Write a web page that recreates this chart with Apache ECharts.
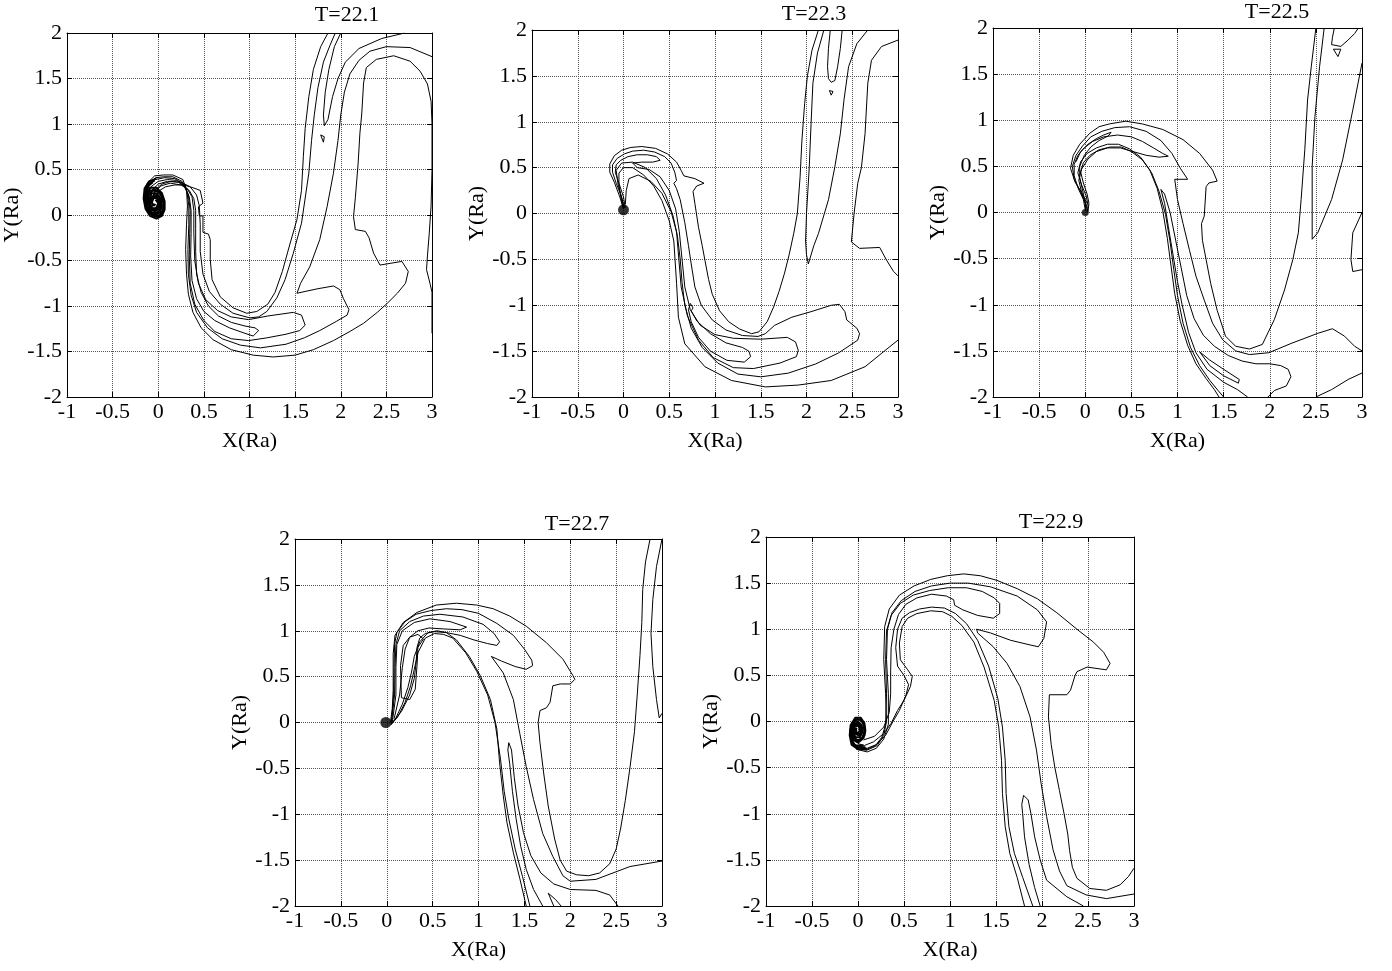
<!DOCTYPE html>
<html>
<head>
<meta charset="utf-8">
<title>T=22.1 ... T=22.9</title>
<script src="https://cdn.jsdelivr.net/npm/echarts@6/dist/echarts.min.js"></script>
<style>
    html, body {margin: 0; padding: 0; background: #fff;}
    #chart {width: 1392px; height: 971px;}
</style>
</head>
<body>
<div id="chart"></div>
<script>
    // contour lines, [x, y] in Ra

    // ---- T=22.1 ----
    var p1_spiral = [[-0.02,0.40],[-0.10,0.37],[-0.15,0.29],[-0.16,0.18],[-0.14,0.07],[-0.09,-0.01],[-0.02,-0.04],[0.04,-0.01],[0.07,0.06],[0.07,0.15],[0.04,0.24],[-0.02,0.3],[-0.09,0.3],[-0.13,0.22],[-0.13,0.11],[-0.09,0.03],[-0.03,0.0],[0.02,0.03],[0.04,0.1],[0.03,0.18],[-0.02,0.24],[-0.07,0.24],[-0.1,0.17],[-0.09,0.09],[-0.05,0.05],[-0.01,0.07],[0.01,0.12],[-0.01,0.18],[-0.05,0.19],[-0.07,0.14],[-0.05,0.1],[-0.03,0.12]];
    var p1_spiral_b = [[-0.04,0.38],[-0.11,0.34],[-0.145,0.26],[-0.15,0.16],[-0.12,0.06],[-0.07,0.0],[-0.01,-0.02],[0.04,0.01],[0.06,0.08],[0.055,0.17],[0.02,0.25],[-0.04,0.28],[-0.1,0.26],[-0.125,0.18],[-0.115,0.09],[-0.07,0.03],[-0.02,0.02],[0.02,0.06],[0.03,0.13],[0.01,0.2],[-0.04,0.22],[-0.08,0.19],[-0.09,0.12],[-0.06,0.07],[-0.02,0.08],[0.0,0.13],[-0.03,0.17]];
    var p1_spiral_c = [[-0.06,0.36],[-0.12,0.31],[-0.14,0.22],[-0.135,0.12],[-0.1,0.04],[-0.04,-0.01],[0.02,0.0],[0.05,0.05],[0.06,0.12],[0.04,0.2],[0.0,0.26],[-0.06,0.27],[-0.11,0.21],[-0.11,0.13],[-0.08,0.06],[-0.03,0.04],[0.01,0.08],[0.02,0.15],[-0.02,0.2],[-0.06,0.2],[-0.08,0.14],[-0.05,0.1]];
    var p1_outer = [[-0.14,0.24],[-0.12,0.35],[-0.04,0.43],[0.06,0.44],[0.16,0.44],[0.27,0.39],[0.31,0.27],[0.32,0.1],[0.31,-0.1],[0.30,-0.38],[0.31,-0.65],[0.33,-0.87],[0.38,-1.07],[0.47,-1.24],[0.6,-1.37],[0.8,-1.48],[1.04,-1.54],[1.26,-1.56],[1.5,-1.54],[1.7,-1.48],[1.92,-1.38],[2.1,-1.28],[2.25,-1.19],[2.4,-1.07],[2.51,-0.97],[2.62,-0.86],[2.71,-0.75],[2.74,-0.62],[2.67,-0.51],[2.55,-0.53],[2.43,-0.55],[2.36,-0.42],[2.31,-0.25],[2.27,-0.18],[2.16,-0.16],[2.14,-0.02],[2.16,0.19],[2.19,0.56],[2.21,0.9],[2.23,1.11],[2.25,1.45],[2.28,1.62],[2.39,1.71],[2.58,1.75],[2.76,1.69],[2.87,1.58],[2.95,1.44],[2.99,1.25],[3.0,1.0]];
    var p1_edge = [[3.0,1.0],[3.0,0.5],[2.99,0.1],[2.97,-0.2],[2.95,-0.45],[2.94,-0.6],[2.98,-0.76],[3.0,-0.85],[3.0,-1.3]];
    var p1_lobe3 = [[-0.12,0.26],[-0.1,0.34],[-0.03,0.41],[0.06,0.42],[0.16,0.42],[0.26,0.37],[0.315,0.25],[0.335,0.1],[0.335,-0.1],[0.325,-0.38],[0.33,-0.65],[0.36,-0.88],[0.42,-1.07],[0.54,-1.24],[0.7,-1.36],[0.9,-1.43],[1.12,-1.46],[1.4,-1.42],[1.6,-1.35],[1.77,-1.27],[1.95,-1.17],[2.07,-1.1],[2.09,-1.04],[2.03,-0.92],[1.99,-0.82],[1.92,-0.78],[1.75,-0.81],[1.61,-0.84],[1.52,-0.86],[1.56,-0.75],[1.66,-0.57],[1.77,-0.27],[1.85,0.09],[1.92,0.46],[1.97,0.82],[2.0,1.1],[2.04,1.35],[2.1,1.55],[2.2,1.7],[2.32,1.8],[2.5,1.85],[2.76,1.84],[3.0,1.74]];
    var p1_lobe2 = [[-0.13,0.24],[-0.1,0.32],[-0.03,0.39],[0.07,0.41],[0.18,0.4],[0.28,0.34],[0.33,0.22],[0.35,0.05],[0.345,-0.2],[0.34,-0.45],[0.35,-0.75],[0.4,-0.98],[0.5,-1.16],[0.62,-1.28],[0.8,-1.36],[0.99,-1.38],[1.19,-1.35],[1.4,-1.31],[1.55,-1.27],[1.61,-1.21],[1.57,-1.1],[1.48,-1.07],[1.2,-1.11],[0.99,-1.15],[0.8,-1.12],[0.65,-1.05],[0.52,-0.93],[0.44,-0.75],[0.40,-0.5],[0.39,-0.2],[0.39,0.05],[0.37,0.2],[0.31,0.3],[0.22,0.36],[0.1,0.37],[0.0,0.34],[-0.07,0.27],[-0.1,0.18]];
    var p1_lobe1 = [[-0.11,0.22],[-0.08,0.31],[0.0,0.37],[0.1,0.39],[0.2,0.38],[0.29,0.32],[0.34,0.2],[0.36,0.05],[0.36,-0.2],[0.355,-0.45],[0.37,-0.72],[0.42,-0.92],[0.5,-1.06],[0.62,-1.16],[0.78,-1.24],[0.95,-1.3],[1.04,-1.33],[1.10,-1.27],[1.06,-1.24],[0.95,-1.22],[0.8,-1.18],[0.66,-1.11],[0.55,-1.0],[0.47,-0.85],[0.42,-0.65],[0.41,-0.4],[0.41,-0.15],[0.41,0.05],[0.39,0.18],[0.34,0.27],[0.25,0.33],[0.13,0.35],[0.03,0.32],[-0.04,0.25],[-0.07,0.17]];
    var p1_inner_b = [[-0.06,0.2],[-0.03,0.28],[0.04,0.34],[0.14,0.37],[0.25,0.36],[0.35,0.31],[0.42,0.22],[0.45,0.1],[0.46,-0.1],[0.46,-0.4],[0.49,-0.65],[0.56,-0.84],[0.68,-0.98],[0.82,-1.08],[1.0,-1.13],[1.1,-1.12],[1.19,-1.06],[1.30,-0.91],[1.39,-0.71],[1.48,-0.42],[1.57,-0.09],[1.65,0.46],[1.68,0.82],[1.71,1.1],[1.75,1.4],[1.81,1.68],[1.88,1.86],[1.94,2.0]];
    var p1_inner_a = [[-0.04,0.18],[0.0,0.26],[0.08,0.31],[0.18,0.33],[0.28,0.33],[0.38,0.3],[0.46,0.27],[0.49,0.13],[0.44,0.09],[0.45,-0.01],[0.49,-0.01],[0.49,-0.19],[0.55,-0.21],[0.57,-0.27],[0.57,-0.49],[0.59,-0.71],[0.68,-0.9],[0.82,-1.02],[0.97,-1.08],[1.08,-1.06],[1.2,-0.98],[1.28,-0.85],[1.36,-0.62],[1.44,-0.33],[1.52,-0.05],[1.57,0.27],[1.59,0.64],[1.61,0.95],[1.65,1.3],[1.70,1.6],[1.78,1.85],[1.86,2.0]];
    var p1_hook = [[2.0,2.0],[1.93,1.85],[1.87,1.6],[1.83,1.35],[1.81,1.1],[1.82,0.98],[1.86,1.05],[1.91,1.3],[1.97,1.5],[2.05,1.68],[2.2,1.83],[2.45,1.94],[2.70,2.0]];
    var p1_tri = [[1.78,0.88],[1.82,0.86],[1.81,0.80],[1.78,0.88]];

    // ---- T=22.3 ----
    var p2_dot = [[0.0, 0.04]];
    var p2_u = [[0.0,0.05],[-0.04,0.18],[-0.1,0.34],[-0.15,0.45],[-0.15,0.54],[-0.1,0.63],[-0.02,0.69],[0.08,0.72],[0.2,0.73],[0.35,0.71],[0.48,0.65],[0.58,0.56],[0.63,0.47],[0.66,0.41],[0.78,0.38],[0.88,0.33],[0.8,0.3],[0.76,0.24],[0.78,0.11],[0.82,-0.15],[0.86,-0.35],[0.89,-0.51],[0.93,-0.72],[0.97,-0.88],[1.05,-1.06],[1.15,-1.18],[1.27,-1.26],[1.4,-1.31],[1.48,-1.29],[1.57,-1.18],[1.64,-1.02],[1.7,-0.85],[1.76,-0.65],[1.81,-0.45],[1.86,-0.22],[1.9,0.0],[1.93,0.4],[1.95,0.8],[1.98,1.2],[2.01,1.5],[2.06,1.78],[2.13,2.0]];
    var p2_lobeA = [[0.01,0.06],[-0.02,0.18],[-0.08,0.33],[-0.12,0.45],[-0.12,0.53],[-0.07,0.6],[0.01,0.65],[0.1,0.68],[0.22,0.69],[0.34,0.67],[0.45,0.62],[0.52,0.55],[0.56,0.45],[0.58,0.36],[0.55,0.33],[0.58,0.27],[0.62,0.15],[0.67,-0.1],[0.71,-0.35],[0.74,-0.55],[0.78,-0.8],[0.85,-1.0],[0.97,-1.16],[1.12,-1.27],[1.3,-1.33],[1.47,-1.34],[1.55,-1.31],[1.65,-1.22],[1.84,-1.13],[2.05,-1.07],[2.27,-1.0],[2.36,-0.99],[2.42,-1.07],[2.44,-1.16],[2.55,-1.25],[2.58,-1.31],[2.56,-1.38],[2.35,-1.52],[2.1,-1.64],[1.8,-1.74],[1.5,-1.78],[1.25,-1.75],[1.03,-1.63],[0.86,-1.46],[0.74,-1.25],[0.67,-1.0],[0.64,-0.75],[0.62,-0.5],[0.59,-0.25],[0.54,-0.02],[0.46,0.2],[0.36,0.38],[0.24,0.5],[0.1,0.56],[-0.02,0.55],[-0.08,0.47],[-0.06,0.32],[-0.02,0.17],[0.0,0.07]];
    var p2_lobeB = [[0.02,0.06],[0.0,0.18],[-0.05,0.33],[-0.09,0.45],[-0.08,0.53],[-0.03,0.58],[0.05,0.62],[0.15,0.64],[0.26,0.64],[0.36,0.62],[0.4,0.58],[0.32,0.56],[0.2,0.56],[0.1,0.55],[0.15,0.5],[0.28,0.48],[0.4,0.4],[0.5,0.25],[0.57,0.05],[0.61,-0.2],[0.64,-0.5],[0.67,-0.8],[0.73,-1.05],[0.84,-1.22],[1.0,-1.32],[1.2,-1.36],[1.5,-1.37],[1.79,-1.35],[1.88,-1.40],[1.91,-1.49],[1.89,-1.56],[1.71,-1.63],[1.42,-1.69],[1.2,-1.68],[0.98,-1.57],[0.82,-1.38],[0.7,-1.12],[0.63,-0.8],[0.605,-0.5],[0.58,-0.2],[0.52,0.02],[0.42,0.22],[0.3,0.35],[0.16,0.42],[0.06,0.38],[0.03,0.25],[0.02,0.1]];
    var p2_lobeC = [[0.73,-0.98],[0.76,-1.03],[0.74,-1.06],[0.8,-1.17],[0.95,-1.31],[1.12,-1.41],[1.3,-1.46],[1.37,-1.5],[1.39,-1.56],[1.32,-1.62],[1.13,-1.6],[0.95,-1.5],[0.82,-1.35],[0.74,-1.18],[0.71,-1.05],[0.73,-0.98]];
    var p2_outer = [[0.0,0.05],[-0.03,0.18],[-0.05,0.32],[-0.05,0.44],[0.0,0.5],[0.1,0.5],[0.22,0.42],[0.33,0.3],[0.42,0.14],[0.5,-0.08],[0.55,-0.3],[0.58,-0.76],[0.6,-1.13],[0.67,-1.42],[0.89,-1.67],[1.18,-1.82],[1.55,-1.89],[1.91,-1.87],[2.27,-1.82],[2.64,-1.67],[2.85,-1.5],[3.0,-1.38]];
    var p2_v = [[2.19,2.0],[2.12,1.75],[2.07,1.42],[2.05,0.98],[2.03,0.5],[2.0,0.0],[1.99,-0.3],[2.0,-0.45],[2.02,-0.55],[2.08,-0.35],[2.13,-0.22],[2.24,0.15],[2.31,0.51],[2.37,0.87],[2.41,1.24],[2.46,1.6],[2.55,1.85],[2.67,2.0]];
    var p2_hook = [[2.26,2.0],[2.24,1.8],[2.23,1.6],[2.24,1.47],[2.27,1.43],[2.31,1.45],[2.34,1.6],[2.37,1.8],[2.39,2.0]];
    var p2_tri = [[2.25,1.34],[2.29,1.33],[2.27,1.29],[2.25,1.34]];
    var p2_arc = [[3.0,1.89],[2.82,1.82],[2.71,1.67],[2.67,1.42],[2.64,0.87],[2.6,0.5],[2.56,0.33],[2.52,0.0],[2.49,-0.31],[2.58,-0.38],[2.8,-0.37],[2.87,-0.5],[2.95,-0.63],[3.0,-0.68]];

    // ---- T=22.5 ----
    var p3_dot = [[0.0, 0.0]];
    var p3_u = [[0.0,0.02],[0.02,0.1],[-0.04,0.22],[-0.11,0.33],[-0.16,0.48],[-0.13,0.62],[-0.06,0.74],[0.05,0.86],[0.15,0.93],[0.26,0.96],[0.44,0.99],[0.62,0.96],[0.84,0.90],[1.06,0.79],[1.24,0.64],[1.38,0.46],[1.43,0.34],[1.34,0.32],[1.31,0.28],[1.29,-0.04],[1.26,-0.12],[1.27,-0.30],[1.31,-0.51],[1.36,-0.77],[1.43,-1.06],[1.52,-1.34],[1.63,-1.45],[1.78,-1.48],[1.92,-1.43],[2.05,-1.16],[2.16,-0.84],[2.25,-0.51],[2.31,-0.22],[2.34,0.14],[2.38,0.68],[2.41,1.22],[2.45,1.58],[2.50,2.0]];
    var p3_l2 = [[0.01,0.02],[0.0,0.12],[-0.06,0.24],[-0.12,0.36],[-0.14,0.5],[-0.1,0.62],[-0.03,0.72],[0.06,0.82],[0.18,0.88],[0.32,0.92],[0.48,0.93],[0.66,0.88],[0.82,0.78],[0.94,0.64],[1.03,0.48],[1.11,0.36],[0.97,0.36],[1.0,0.14],[1.06,-0.12],[1.13,-0.41],[1.2,-0.69],[1.29,-0.95],[1.38,-1.2],[1.49,-1.38],[1.63,-1.5],[1.78,-1.54],[1.99,-1.52],[2.23,-1.42],[2.52,-1.31],[2.68,-1.26],[2.81,-1.34],[2.92,-1.45],[3.0,-1.5]];
    var p3_l3 = [[0.0,0.03],[-0.02,0.14],[-0.08,0.27],[-0.12,0.4],[-0.12,0.52],[-0.08,0.62],[-0.01,0.7],[0.08,0.77],[0.2,0.82],[0.35,0.84],[0.5,0.82],[0.62,0.77],[0.74,0.7],[0.84,0.64],[0.9,0.61],[0.8,0.6],[0.66,0.62],[0.52,0.66],[0.38,0.7],[0.24,0.7],[0.12,0.66],[0.03,0.58],[-0.04,0.47],[-0.07,0.35],[-0.04,0.22],[0.0,0.1],[0.01,0.04]];
    var p3_l4 = [[-0.1,0.55],[-0.05,0.66],[0.03,0.74],[0.12,0.8],[0.2,0.84],[0.28,0.87],[0.25,0.83],[0.15,0.78],[0.06,0.71],[-0.01,0.62],[-0.06,0.5],[-0.06,0.38],[-0.02,0.2],[0.01,0.05]];
    var p3_d1 = [[0.02,0.0],[0.03,0.08],[0.01,0.18],[-0.04,0.3],[-0.08,0.43],[-0.05,0.55],[0.02,0.64],[0.12,0.7],[0.24,0.74],[0.36,0.74],[0.48,0.69],[0.6,0.6],[0.7,0.46],[0.78,0.26],[0.84,0.02],[0.89,-0.28],[0.93,-0.58],[0.97,-0.88],[1.03,-1.18],[1.11,-1.44],[1.2,-1.64],[1.31,-1.8],[1.4,-1.92],[1.45,-2.0]];
    var p3_d2 = [[0.03,0.01],[0.04,0.1],[0.02,0.2],[-0.02,0.32],[-0.05,0.44],[-0.02,0.54],[0.05,0.62],[0.15,0.68],[0.27,0.71],[0.39,0.71],[0.5,0.66],[0.62,0.57],[0.72,0.43],[0.8,0.23],[0.87,-0.02],[0.92,-0.32],[0.96,-0.62],[1.0,-0.9],[1.06,-1.2],[1.14,-1.46],[1.24,-1.66],[1.35,-1.82],[1.44,-1.93],[1.5,-2.0]];
    var p3_d3 = [[1.76,-2.0],[1.65,-1.92],[1.5,-1.84],[1.32,-1.7],[1.2,-1.52],[1.12,-1.3],[1.05,-1.0],[1.0,-0.75],[0.95,-0.45],[0.9,-0.15],[0.86,0.1],[0.82,0.25],[0.86,0.2],[0.92,0.0],[0.98,-0.3],[1.04,-0.6],[1.1,-0.9],[1.18,-1.15],[1.28,-1.33],[1.4,-1.45],[1.55,-1.55],[1.7,-1.61],[1.85,-1.64],[2.0,-1.64],[2.12,-1.66],[2.2,-1.7],[2.23,-1.78],[2.18,-1.88],[2.05,-1.93],[1.98,-2.0]];
    var p3_narrow = [[1.24,-1.51],[1.35,-1.6],[1.5,-1.7],[1.67,-1.81],[1.66,-1.85],[1.5,-1.77],[1.35,-1.66],[1.24,-1.51]];
    var p3_v = [[2.59,2.0],[2.54,1.58],[2.49,1.04],[2.46,0.5],[2.46,0.0],[2.46,-0.29],[2.52,-0.22],[2.67,0.14],[2.79,0.57],[2.9,1.11],[3.0,1.62]];
    var p3_top = [[2.7,2.0],[2.68,1.9],[2.67,1.82],[2.77,1.8],[2.85,1.87],[2.92,1.94],[2.96,2.0]];
    var p3_tri = [[2.69,1.77],[2.74,1.69],[2.77,1.77],[2.69,1.77]];
    var p3_edge = [[3.0,0.0],[2.9,-0.22],[2.88,-0.51],[2.9,-0.64],[3.0,-0.62]];
    var p3_corner = [[2.5,-2.0],[2.67,-1.92],[2.85,-1.81],[3.0,-1.74]];

    // ---- T=22.7 ----
    var p4_dot = [[-0.01, 0.0]];
    var p4_u = [[0.04,0.0],[0.06,0.15],[0.07,0.35],[0.07,0.55],[0.07,0.75],[0.09,0.95],[0.18,1.09],[0.33,1.2],[0.54,1.28],[0.76,1.3],[0.98,1.28],[1.16,1.24],[1.34,1.16],[1.52,1.05],[1.74,0.87],[1.92,0.69],[2.03,0.51],[2.05,0.47],[2.0,0.42],[1.89,0.42],[1.81,0.40],[1.78,0.22],[1.74,0.16],[1.67,0.13],[1.65,0.0],[1.67,-0.22],[1.71,-0.55],[1.76,-0.91],[1.83,-1.27],[1.89,-1.5],[1.96,-1.62],[2.07,-1.66],[2.2,-1.67],[2.32,-1.64],[2.43,-1.54],[2.5,-1.38],[2.55,-1.15],[2.6,-0.85],[2.65,-0.5],[2.7,-0.1],[2.73,0.3],[2.76,0.73],[2.78,1.09],[2.79,1.45],[2.82,1.75],[2.87,2.0]];
    var p4_edge = [[3.0,2.0],[2.94,1.7],[2.9,1.34],[2.88,0.97],[2.9,0.61],[2.94,0.25],[2.97,0.05],[3.0,0.1]];
    var p4_lobeC = [[0.05,-0.01],[0.075,0.3],[0.08,0.6],[0.085,0.85],[0.11,0.98],[0.2,1.1],[0.32,1.18],[0.48,1.22],[0.65,1.24],[0.82,1.23],[1.0,1.19],[1.2,1.08],[1.38,0.95],[1.5,0.8],[1.58,0.68],[1.59,0.62],[1.52,0.58],[1.4,0.61],[1.25,0.67],[1.14,0.72],[1.27,0.54],[1.38,0.25],[1.45,-0.12],[1.52,-0.48],[1.6,-0.84],[1.7,-1.21],[1.81,-1.46],[1.92,-1.67],[2.0,-1.73],[2.28,-1.71],[2.65,-1.57],[3.0,-1.51]];
    var p4_lobeB = [[0.05,-0.02],[0.085,0.3],[0.09,0.6],[0.1,0.85],[0.14,1.0],[0.25,1.1],[0.4,1.16],[0.58,1.18],[0.83,1.15],[1.05,1.07],[1.17,0.97],[1.23,0.88],[1.2,0.84],[1.1,0.86],[0.95,0.9],[0.8,0.95],[0.65,0.98],[0.52,0.99],[0.42,0.97],[0.36,0.92],[0.33,0.82],[0.32,0.65],[0.3,0.48],[0.25,0.3],[0.16,0.12],[0.07,0.01]];
    var p4_lobeA = [[0.06,0.0],[0.1,0.3],[0.1,0.6],[0.11,0.85],[0.17,1.0],[0.3,1.09],[0.47,1.13],[0.69,1.1],[0.87,1.04],[0.8,1.01],[0.62,1.02],[0.46,1.03],[0.34,1.0],[0.25,0.93],[0.2,0.8],[0.17,0.6],[0.14,0.3],[0.08,0.04]];
    var p4_loop = [[0.16,0.27],[0.15,0.62],[0.18,0.84],[0.25,0.93],[0.34,0.96],[0.4,0.91],[0.34,0.82],[0.33,0.62],[0.31,0.36],[0.25,0.25],[0.16,0.27]];
    var p4_d1 = [[0.05,-0.02],[0.1,0.05],[0.17,0.2],[0.23,0.38],[0.27,0.55],[0.3,0.72],[0.36,0.88],[0.45,0.98],[0.55,1.0],[0.65,0.98],[0.76,0.9],[0.9,0.72],[1.02,0.51],[1.13,0.25],[1.2,-0.07],[1.23,-0.44],[1.27,-0.8],[1.31,-1.09],[1.38,-1.42],[1.45,-1.7],[1.52,-2.0]];
    var p4_d2 = [[0.04,-0.03],[0.12,0.06],[0.2,0.22],[0.26,0.4],[0.3,0.58],[0.34,0.76],[0.42,0.92],[0.52,0.97],[0.62,0.96],[0.72,0.92],[0.86,0.76],[0.98,0.56],[1.1,0.3],[1.18,0.0],[1.24,-0.4],[1.28,-0.75],[1.33,-1.05],[1.40,-1.38],[1.48,-1.68],[1.56,-2.0]];
    var p4_spike = [[1.70,-2.0],[1.6,-1.82],[1.52,-1.6],[1.46,-1.35],[1.41,-1.05],[1.37,-0.75],[1.34,-0.45],[1.32,-0.3],[1.33,-0.22],[1.36,-0.3],[1.39,-0.6],[1.43,-0.9],[1.49,-1.2],[1.57,-1.45],[1.68,-1.64],[1.82,-1.76],[2.0,-1.82],[2.28,-1.83],[2.43,-1.88],[2.52,-2.0]];
    var p4_narrow = [[1.82,-2.0],[1.76,-1.86],[1.84,-1.93],[1.9,-2.0]];

    // ---- T=22.9 ----
    var p5_spiral = [[0.1,-0.3],[0.0,-0.3],[-0.07,-0.25],[-0.09,-0.15],[-0.08,-0.04],[-0.03,0.04],[0.03,0.04],[0.07,-0.02],[0.08,-0.1],[0.06,-0.18],[0.0,-0.23],[-0.05,-0.2],[-0.07,-0.12],[-0.05,-0.04],[0.0,0.0],[0.04,-0.04],[0.05,-0.11],[0.02,-0.17],[-0.03,-0.17],[-0.05,-0.1],[-0.03,-0.05],[0.01,-0.05],[0.02,-0.1],[-0.01,-0.13]];
    var p5_spiral_b = [[0.08,-0.28],[-0.01,-0.28],[-0.06,-0.23],[-0.08,-0.14],[-0.07,-0.05],[-0.02,0.02],[0.03,0.02],[0.06,-0.03],[0.07,-0.11],[0.05,-0.17],[0.0,-0.21],[-0.04,-0.18],[-0.06,-0.11],[-0.04,-0.05],[0.0,-0.02],[0.03,-0.06],[0.04,-0.12],[0.01,-0.15],[-0.02,-0.14],[-0.04,-0.09],[-0.01,-0.07]];
    var p5_spiral_c = [[0.06,-0.26],[-0.03,-0.26],[-0.07,-0.2],[-0.085,-0.1],[-0.06,-0.01],[0.0,0.03],[0.05,0.0],[0.075,-0.07],[0.07,-0.15],[0.03,-0.2],[-0.02,-0.2],[-0.05,-0.15],[-0.055,-0.07],[-0.02,-0.02],[0.02,-0.03],[0.035,-0.09],[0.02,-0.14],[-0.02,-0.12],[-0.02,-0.08]];
    var p5_outer = [[0.0,-0.3],[0.1,-0.31],[0.21,-0.26],[0.28,-0.15],[0.31,0.0],[0.3,0.3],[0.28,0.67],[0.29,1.03],[0.34,1.22],[0.45,1.37],[0.61,1.47],[0.79,1.54],[0.97,1.58],[1.15,1.6],[1.33,1.58],[1.51,1.53],[1.73,1.44],[1.95,1.33],[2.16,1.18],[2.38,1.0],[2.56,0.86],[2.67,0.75],[2.74,0.63],[2.70,0.56],[2.49,0.59],[2.38,0.54],[2.36,0.5],[2.31,0.34],[2.27,0.29],[2.08,0.29],[2.07,0.05],[2.1,-0.25],[2.14,-0.5],[2.19,-0.75],[2.24,-1.0],[2.28,-1.22],[2.3,-1.4],[2.33,-1.58],[2.38,-1.7],[2.52,-1.81],[2.7,-1.83],[2.85,-1.77],[2.94,-1.68],[3.0,-1.59]];
    var p5_lobe2 = [[-0.02,-0.3],[0.1,-0.33],[0.2,-0.29],[0.28,-0.19],[0.33,-0.03],[0.33,0.3],[0.31,0.67],[0.32,1.0],[0.37,1.18],[0.47,1.31],[0.62,1.41],[0.8,1.47],[1.0,1.5],[1.2,1.5],[1.44,1.46],[1.73,1.36],[1.95,1.21],[2.05,1.08],[2.02,0.9],[1.96,0.81],[1.87,0.83],[1.66,0.88],[1.44,0.96],[1.29,1.0],[1.3,0.96],[1.47,0.81],[1.62,0.63],[1.76,0.38],[1.87,0.05],[1.94,-0.31],[1.99,-0.67],[2.05,-1.03],[2.12,-1.39],[2.19,-1.62],[2.27,-1.78],[2.48,-1.88],[2.7,-1.92],[3.0,-1.87]];
    var p5_lobe3 = [[-0.03,-0.28],[0.1,-0.3],[0.19,-0.26],[0.26,-0.17],[0.3,-0.03],[0.31,0.3],[0.3,0.67],[0.31,0.98],[0.36,1.15],[0.46,1.28],[0.6,1.37],[0.78,1.42],[0.98,1.45],[1.18,1.45],[1.35,1.41],[1.48,1.34],[1.54,1.28],[1.54,1.17],[1.47,1.12],[1.3,1.15],[1.14,1.21],[1.05,1.26],[1.04,1.32],[0.96,1.36],[0.8,1.38],[0.64,1.34],[0.52,1.27],[0.44,1.16],[0.39,1.0],[0.36,0.8],[0.355,0.55],[0.355,0.3],[0.34,0.1],[0.28,-0.06],[0.18,-0.16],[0.06,-0.2]];
    var p5_pair1 = [[0.0,-0.24],[0.07,-0.26],[0.17,-0.22],[0.28,-0.13],[0.36,-0.02],[0.43,0.12],[0.5,0.23],[0.57,0.38],[0.59,0.49],[0.54,0.56],[0.46,0.67],[0.45,0.85],[0.48,1.03],[0.54,1.12],[0.64,1.17],[0.79,1.2],[0.92,1.19],[1.02,1.14],[1.13,1.04],[1.26,0.86],[1.37,0.59],[1.48,0.23],[1.53,-0.06],[1.56,-0.42],[1.57,-0.78],[1.6,-1.14],[1.65,-1.43],[1.73,-1.69],[1.81,-2.0]];
    var p5_pair2 = [[0.01,-0.27],[0.1,-0.29],[0.2,-0.25],[0.3,-0.15],[0.38,0.0],[0.45,0.12],[0.52,0.28],[0.55,0.4],[0.5,0.5],[0.43,0.6],[0.41,0.8],[0.43,1.0],[0.48,1.12],[0.56,1.18],[0.67,1.22],[0.8,1.24],[0.94,1.23],[1.06,1.17],[1.18,1.06],[1.3,0.88],[1.42,0.6],[1.52,0.25],[1.57,-0.06],[1.6,-0.42],[1.61,-0.78],[1.64,-1.14],[1.7,-1.43],[1.79,-1.69],[1.9,-2.0]];
    var p5_spike = [[1.98,-2.0],[1.92,-1.8],[1.86,-1.55],[1.81,-1.25],[1.79,-1.0],[1.78,-0.9],[1.8,-0.8],[1.85,-0.85],[1.88,-1.0],[1.92,-1.25],[1.98,-1.5],[2.05,-1.72],[2.27,-1.9],[2.45,-2.0]];

    var titles = ['T=22.1', 'T=22.3', 'T=22.5', 'T=22.7', 'T=22.9'];
    var xTicks = [-1, -0.5, 0, 0.5, 1, 1.5, 2, 2.5, 3];
    var yTicks = [-2, -1.5, -1, -0.5, 0, 0.5, 1, 1.5, 2];

    // spirals are drawn a bit heavier than the other contours
    var panels = [
        {lines: [p1_outer, p1_edge, p1_lobe3, p1_lobe2, p1_lobe1, p1_inner_b, p1_inner_a, p1_hook, p1_tri], heavy: [p1_spiral, p1_spiral_b, p1_spiral_c], dots: null},
        {lines: [p2_u, p2_lobeA, p2_lobeB, p2_lobeC, p2_outer, p2_v, p2_hook, p2_tri, p2_arc], heavy: [], dots: p2_dot},
        {lines: [p3_u, p3_l2, p3_l3, p3_l4, p3_d1, p3_d2, p3_d3, p3_narrow, p3_v, p3_top, p3_tri, p3_edge, p3_corner], heavy: [], dots: p3_dot},
        {lines: [p4_u, p4_edge, p4_lobeC, p4_lobeB, p4_lobeA, p4_loop, p4_d1, p4_d2, p4_spike, p4_narrow], heavy: [], dots: p4_dot},
        {lines: [p5_outer, p5_lobe2, p5_lobe3, p5_pair1, p5_pair2, p5_spike], heavy: [p5_spiral, p5_spiral_b, p5_spiral_c], dots: null}
    ];

    // layout of the five boxes (px)
    var boxes = [
        {left: 67, top: 33, width: 365, height: 364, titleX: 347, titleY: 15, dot: 0},
        {left: 532, top: 30, width: 366, height: 367, titleX: 814, titleY: 14, dot: 11},
        {left: 993, top: 28, width: 369, height: 369, titleX: 1277, titleY: 12, dot: 7},
        {left: 295, top: 539, width: 367, height: 367, titleX: 577, titleY: 524, dot: 11},
        {left: 766, top: 537, width: 368, height: 369, titleX: 1051, titleY: 522, dot: 0}
    ];

    var font = '"Liberation Serif", "Times New Roman", serif';
    var black = '#000';

    var grid = [], xAxis = [], yAxis = [], graphic = [], series = [];

    boxes.forEach(function (b, i) {
        grid.push({left: b.left, top: b.top, width: b.width, height: b.height, containLabel: false});
        // panel titles as plain text, centred on the measured spot
        graphic.push({
            type: 'text', x: b.titleX, y: b.titleY, silent: true,
            style: {
                text: titles[i], fill: black, align: 'center', verticalAlign: 'middle',
                fontFamily: font, fontSize: 22, fontWeight: 'normal'
            }
        });
    });

    // bottom / left axes carry labels and grid lines
    boxes.forEach(function (b, i) {
        xAxis.push({
            gridIndex: i, type: 'value', position: 'bottom', min: xTicks[0], max: xTicks[xTicks.length - 1], interval: 0.5,
            name: 'X(Ra)', nameLocation: 'middle', nameGap: 33,
            nameTextStyle: {fontFamily: font, fontSize: 22, color: black},
            axisLine: {show: true, onZero: false, lineStyle: {color: black, width: 1}},
            axisTick: {show: true, inside: true, length: 5, lineStyle: {color: black}},
            axisLabel: {fontFamily: font, fontSize: 22, color: black, margin: 4},
            splitLine: {show: true, lineStyle: {type: 'dotted', color: '#555', width: 1}}
        });
        yAxis.push({
            gridIndex: i, type: 'value', position: 'left', min: yTicks[0], max: yTicks[yTicks.length - 1], interval: 0.5,
            name: 'Y(Ra)', nameLocation: 'middle', nameGap: 37,
            nameTextStyle: {fontFamily: font, fontSize: 22, color: black},
            axisLine: {show: true, onZero: false, lineStyle: {color: black, width: 1}},
            axisTick: {show: true, inside: true, length: 5, lineStyle: {color: black}},
            axisLabel: {fontFamily: font, fontSize: 22, color: black, margin: 5},
            splitLine: {show: true, lineStyle: {type: 'dotted', color: '#555', width: 1}}
        });
    });
    // top / right axes: just the frame and inward ticks
    boxes.forEach(function (b, i) {
        xAxis.push({
            gridIndex: i, type: 'value', position: 'top', min: -1, max: 3, interval: 0.5,
            axisLine: {show: true, onZero: false, lineStyle: {color: black, width: 1}},
            axisTick: {show: true, inside: true, length: 5, lineStyle: {color: black}},
            axisLabel: {show: false}, splitLine: {show: false}
        });
        yAxis.push({
            gridIndex: i, type: 'value', position: 'right', min: -2, max: 2, interval: 0.5,
            axisLine: {show: true, onZero: false, lineStyle: {color: black, width: 1}},
            axisTick: {show: true, inside: true, length: 5, lineStyle: {color: black}},
            axisLabel: {show: false}, splitLine: {show: false}
        });
    });

    function addLine(line, i, w) {
        series.push({
            type: 'line', xAxisIndex: i, yAxisIndex: i, data: line,
            showSymbol: false, symbol: 'none', silent: true, clip: true,
            lineStyle: {color: black, width: w}
        });
    }

    panels.forEach(function (p, i) {
        p.lines.forEach(function (line) { addLine(line, i, 1); });
        p.heavy.forEach(function (line) { addLine(line, i, 2); });
        if (p.dots) {
            series.push({
                type: 'scatter', xAxisIndex: i, yAxisIndex: i, data: p.dots,
                symbol: 'circle', symbolSize: boxes[i].dot, silent: true,
                itemStyle: {color: black}
            });
        }
    });

    var myChart = echarts.init(document.getElementById('chart'), null, {renderer: 'canvas'});
    myChart.setOption({
        backgroundColor: '#fff',
        animation: false,
        grid: grid,
        xAxis: xAxis,
        yAxis: yAxis,
        graphic: graphic,
        series: series
    });
</script>
</body>
</html>
